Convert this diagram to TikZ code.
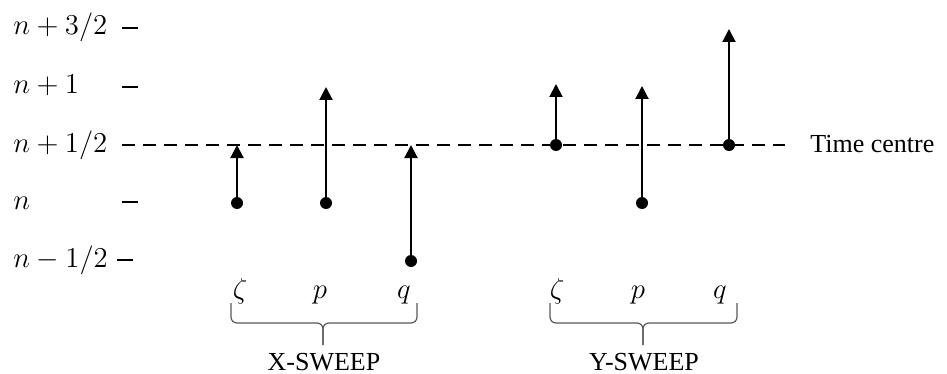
\documentclass[tikz,border=0pt]{standalone}
\usepackage{fontspec}
\setmainfont{Liberation Serif}
\usepackage{tikz}
\usetikzlibrary{arrows.meta, positioning}
\tikzset{
  levelnode/.style={anchor=base west, inner sep=0pt,
                    font=\fontsize{14}{16}\selectfont},
  varnode/.style={anchor=base, inner sep=0pt,
                  font=\fontsize{14}{16}\selectfont},
  textnode/.style={inner sep=0pt, font=\fontsize{13}{15}\selectfont},
  dotnode/.style={circle, fill=black, inner sep=0pt, minimum size=6pt},
  ticklines/.style={line width=1pt},
  steparrow/.style={-{Triangle[width=6.5pt,length=6.5pt]}, line width=1pt},
  centreline/.style={dash pattern=on 6.5pt off 4pt, line width=1pt},
  sweepbrace/.style={draw=black!65, line width=0.6pt, rounded corners=3pt}
}
\begin{document}
\begin{tikzpicture}[x=0.5pt, y=-0.5pt]
  \useasboundingbox (0,0) rectangle (947,374);

  % time levels
  \node[levelnode] (l3) at (13,35) {$n+3/2$};
  \node[levelnode] (l2) at (13,94) {$n+1$};
  \node[levelnode] (l1) at (13,152) {$n+1/2$};
  \node[levelnode] (l0) at (13,209) {$n$};
  \node[levelnode] (lm) at (13,267) {$n-1/2$};
  \draw[ticklines] (122,28) -- (138,28);
  \draw[ticklines] (122,87) -- (138,87);
  \draw[ticklines] (122,202) -- (138,202);
  \draw[ticklines] (117,260) -- (133,260);

  % time centre line
  \coordinate (cl) at (122,145);
  \coordinate (ce) at (785,145);
  \draw[centreline] (cl) -- (ce);
  \node[textnode, anchor=west] (tc) at (810,144) {Time centre};

  % X-sweep
  \node[dotnode] (xz) at (237,203) {};
  \node[dotnode] (xp) at (326,203) {};
  \node[dotnode] (xq) at (411,261) {};
  \coordinate (xzt) at (237,145);
  \coordinate (xpt) at (326,87);
  \coordinate (xqt) at (411,145);

  % Y-sweep
  \node[dotnode] (yz) at (556,145) {};
  \node[dotnode] (yp) at (642,203) {};
  \node[dotnode] (yq) at (729,145) {};
  \coordinate (yzt) at (556,84);
  \coordinate (ypt) at (642,86);
  \coordinate (yqt) at (729,29);

  \foreach \from/\to in {xz/xzt, xp/xpt, xq/xqt, yz/yzt, yp/ypt, yq/yqt}
    \draw[steparrow] (\from.center) -- (\to);

  % variables and braces
  \node[varnode] (xzl) at (240,298) {$\zeta$};
  \node[varnode] (xpl) at (320,298) {$p$};
  \node[varnode] (xql) at (404,298) {$q$};
  \node[varnode] (yzl) at (557,298) {$\zeta$};
  \node[varnode] (ypl) at (638,298) {$p$};
  \node[varnode] (yql) at (720,298) {$q$};

  \coordinate (xb1) at (231,303);
  \coordinate (xb2) at (417,303);
  \coordinate (xbm) at (323,323);
  \coordinate (xbt) at (323,345);
  \coordinate (yb1) at (550,303);
  \coordinate (yb2) at (737,303);
  \coordinate (ybm) at (643,323);
  \coordinate (ybt) at (643,345);
  \draw[sweepbrace] (xb1) |- (xbm) -- (xbt);
  \draw[sweepbrace] (xb2) |- (xbm) -- (xbt);
  \draw[sweepbrace] (yb1) |- (ybm) -- (ybt);
  \draw[sweepbrace] (yb2) |- (ybm) -- (ybt);
  \node[textnode] (xs) at (324,362) {X-SWEEP};
  \node[textnode] (ys) at (644,362) {Y-SWEEP};
\end{tikzpicture}
\end{document}
